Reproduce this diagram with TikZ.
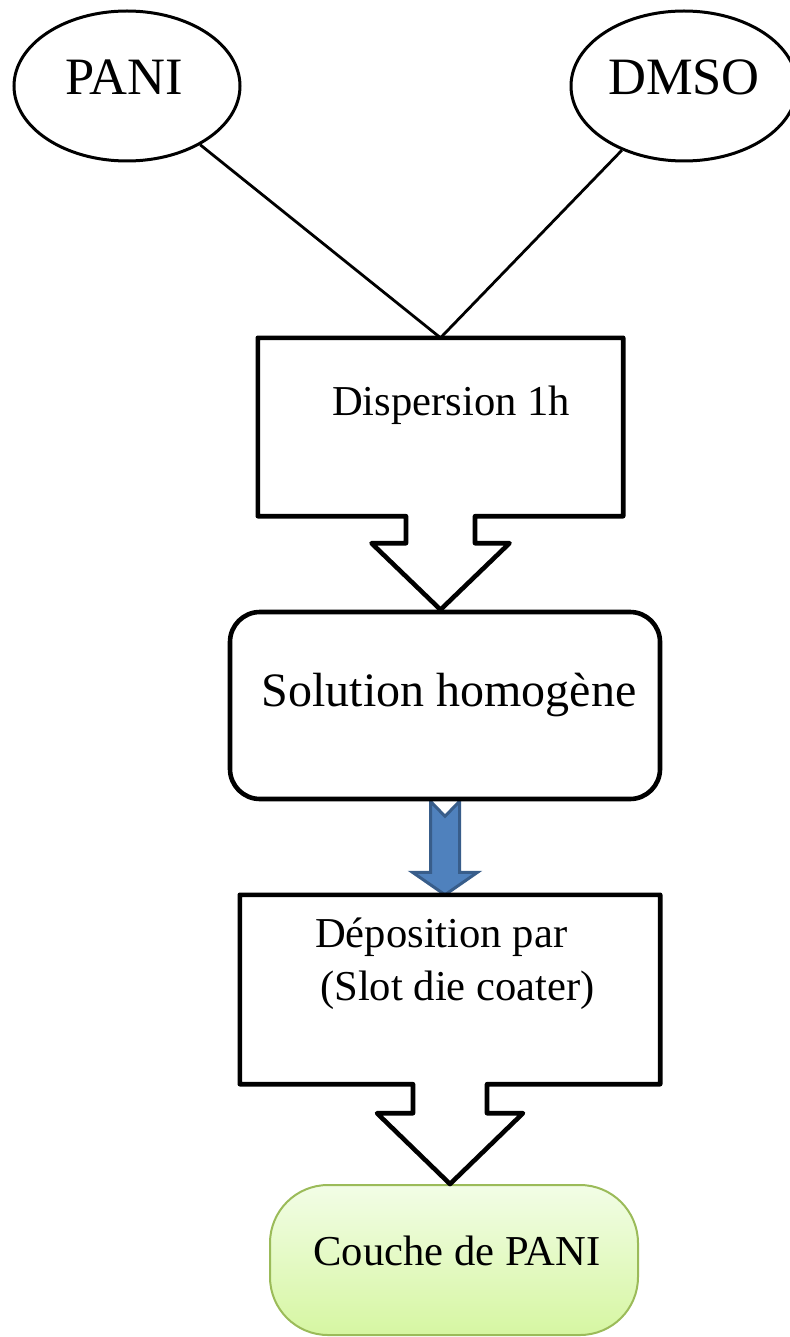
\documentclass[tikz,border=0pt]{standalone}
\usepackage{fontspec}
\setmainfont{Liberation Serif}
\usetikzlibrary{shapes.geometric,calc,backgrounds}
\definecolor{arrfill}{HTML}{4F81BD}
\definecolor{arrline}{HTML}{385D8A}
\definecolor{grnline}{HTML}{9BBB59}
\definecolor{grntop}{HTML}{F2FDE6}
\definecolor{grnbot}{HTML}{D6F6A2}
\tikzset{
  ell/.style={draw=black, line width=3pt, ellipse, minimum width=226pt, minimum height=150pt, inner sep=0pt},
  conn/.style={draw=black, line width=2.8pt},
  boxshape/.style={rectangle, inner sep=0pt, draw=none},
  boxline/.style={draw=black, line width=4.6pt, line join=round},
  roundbox/.style={draw=black, line width=4.6pt, rectangle, rounded corners=30pt, inner sep=0pt, fill=white},
  greenbox/.style={draw=grnline, line width=2pt, rectangle, rounded corners=58pt, inner sep=0pt, top color=grntop, bottom color=grnbot},
  bluearrow/.style={fill=arrfill, draw=arrline, line width=3pt, line join=miter},
  bigtxt/.style={font=\fontsize{52.5}{60}\selectfont, inner sep=0pt, anchor=base},
  midtxt/.style={font=\fontsize{48}{56}\selectfont, inner sep=0pt, anchor=base},
  txt/.style={font=\fontsize{42.6}{53}\selectfont, inner sep=0pt, anchor=base},
}
\begin{document}
\begin{tikzpicture}[x=1pt,y=-1pt]
\useasboundingbox (0,0) rectangle (789,1337);

% source ellipses
\node[ell] (pani) at (127,86) {};
\node[ell] (dmso) at (684,86) {};
\node[bigtxt] (panit) at (124,95) {PANI};
\node[bigtxt] (dmsot) at (684,95) {DMSO};

% boxes
\node[boxshape, minimum width=365pt, minimum height=178pt] (b1) at (440.5,427) {};
\node[roundbox, minimum width=430pt, minimum height=187pt] (sol) at (445,705.5) {};
\node[boxshape, minimum width=420pt, minimum height=189pt] (b3) at (450,989.5) {};
\node[greenbox, minimum width=368pt, minimum height=150pt] (grn) at (454,1260) {};

% connectors from ellipses
\draw[conn] (pani) -- (b1.north);
\draw[conn] (dmso) -- (b1.north);

% callout box 1
\draw[boxline] (b1.north west) -- (b1.north east) -- (b1.south east)
  -- ($(b1.south)+(34.5,0)$) -- ($(b1.south)+(34.5,27)$) -- ($(b1.south)+(69,27)$)
  -- (b1.south |- sol.north)
  -- ($(b1.south)+(-69,27)$) -- ($(b1.south)+(-34.5,27)$) -- ($(b1.south)+(-34.5,0)$)
  -- (b1.south west) -- cycle;

% blue notched arrow (behind the rounded box)
\begin{scope}[on background layer]
\filldraw[bluearrow] ($(sol.south)+(-14.5,0)$) -- ($(sol.south)+(0,15)$) -- ($(sol.south)+(14.5,0)$)
  -- ($(sol.south)+(14.5,71)$) -- ($(sol.south)+(32.5,71)$)
  -- (sol.south |- b3.north)
  -- ($(sol.south)+(-32.5,71)$) -- ($(sol.south)+(-14.5,71)$) -- cycle;
\end{scope}

% callout box 3
\draw[boxline] (b3.north west) -- (b3.north east) -- (b3.south east)
  -- ($(b3.south)+(37,0)$) -- ($(b3.south)+(37,29)$) -- ($(b3.south)+(73,29)$)
  -- (b3.south |- grn.north)
  -- ($(b3.south)+(-73,29)$) -- ($(b3.south)+(-37,29)$) -- ($(b3.south)+(-37,0)$)
  -- (b3.south west) -- cycle;

% texts
\node[txt] (t1) at (451,415) {Dispersion 1h};
\node[midtxt] (t2) at (449,706) {Solution homogène};
\node[txt, anchor=base west] (t3a) at (315,947) {Déposition par};
\node[txt, anchor=base west] (t3b) at (320,1000) {(Slot die coater)};
\node[txt] (t4) at (457,1265) {Couche de PANI};
\end{tikzpicture}
\end{document}
